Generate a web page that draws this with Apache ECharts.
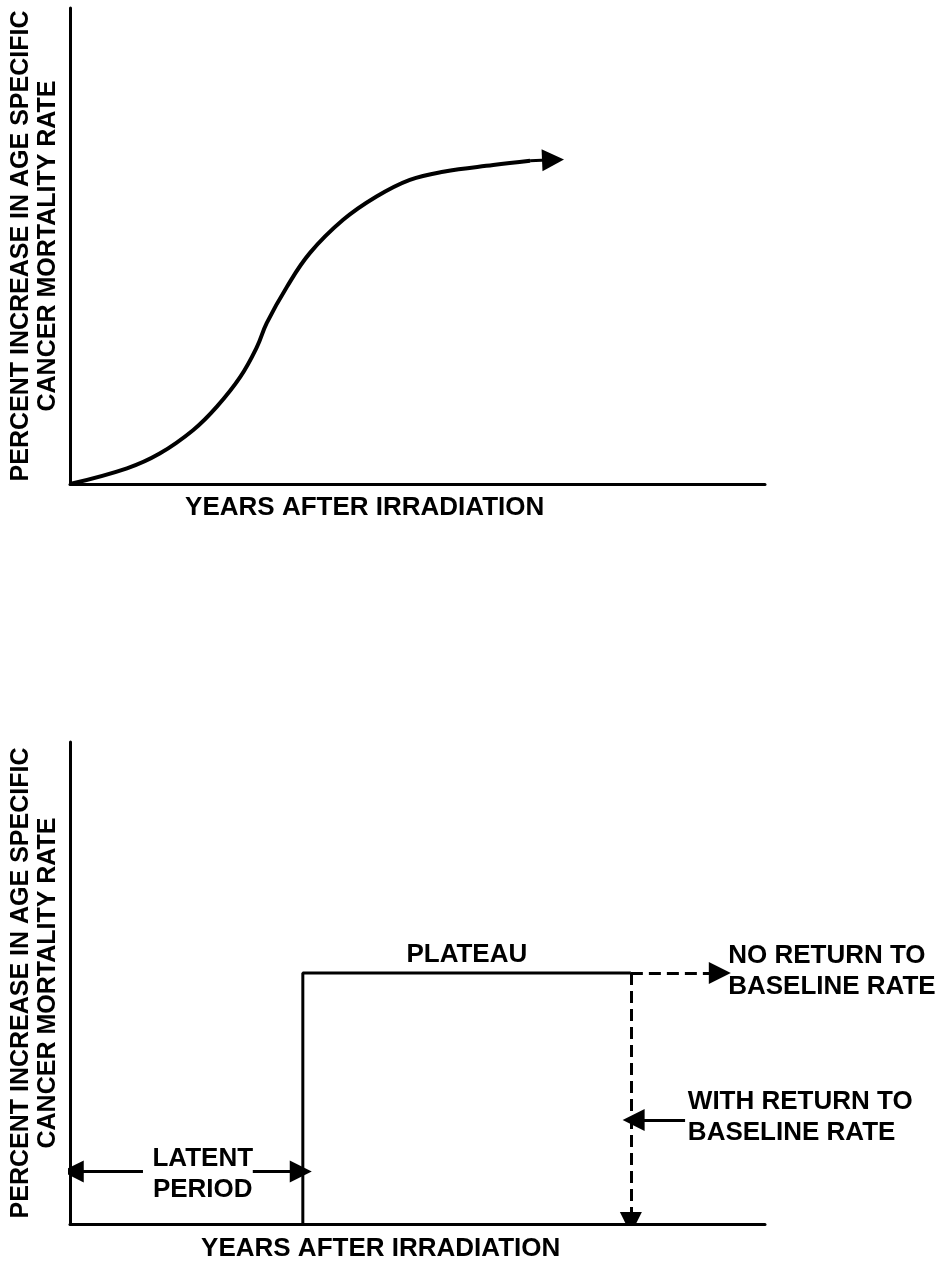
<!DOCTYPE html>
<html>
<head>
<meta charset="utf-8">
<script src="https://cdn.jsdelivr.net/npm/echarts@6/dist/echarts.min.js"></script>
<style>
    html, body { margin: 0; padding: 0; background: #fff; }
    #chart { width: 951px; height: 1265px; }
</style>
</head>
<body>
<div id="chart"></div>
<script>
// top panel: rising curve (0-100 scale)
var curve_x = [0, 8.2, 12.9, 17.7, 21.1, 24.5, 26.9, 28.3, 31.2, 34.5, 39.3, 44.1, 48.9, 53.7, 60.9, 66.2];
var curve_y = [0, 3.3, 6.4, 11.3, 16.2, 22.5, 28.8, 33.8, 41.4, 48.5, 55.5, 60.4, 63.9, 65.6, 67.0, 67.9];
var curve_arrow = [[66.2, 67.9], [69.5, 68.1]];

// bottom panel: step model
var plateau_x = [33.5, 33.5, 80.7];
var plateau_y = [0, 52.1, 52.1];
var no_return = [[80.7, 52.1], [93.5, 52.1]];
var with_return = [[80.7, 52.1], [80.7, 0.2]];
var with_return_pointer = [[88.5, 21.6], [81.1, 21.6]];
var latent_left = [[10.5, 10.9], [0.4, 10.9]];
var latent_right = [[26.3, 10.9], [33.2, 10.9]];

var axis_name = 'PERCENT INCREASE IN AGE SPECIFIC\nCANCER MORTALITY RATE';
var x_name = 'YEARS AFTER IRRADIATION';
var top_x_name_at = [42.4, 0];
var bottom_x_name_at = [44.7, 0];
var center_labels = [['PLATEAU', 57.1, 55.8], ['LATENT\nPERIOD', 19.1, 10.4]];
var left_labels = [['NO RETURN TO\nBASELINE RATE', 94.7, 52.5], ['WITH RETURN TO\nBASELINE RATE', 88.9, 22.2]];

var CHART = {
    font: 'Liberation Sans, Arial, sans-serif',
    init: function(){
        var _this = this;
        var myChart = echarts.init(document.getElementById('chart'), null, {renderer: 'canvas'});
        myChart.setOption(_this.build_option());
    },
    axis: function(idx, is_y){
        var ax = {
            type: 'value',
            gridIndex: idx,
            min: 0,
            max: 100,
            axisLine: {show: true, onZero: false, lineStyle: {color: '#000', width: 3}},
            axisTick: {show: false},
            axisLabel: {show: false},
            splitLine: {show: false}
        };
        if (is_y){
            ax.name = axis_name;
            ax.nameLocation = 'middle';
            ax.nameRotate = 90;
            ax.nameGap = 8;
            ax.nameTextStyle = {
                fontFamily: this.font,
                fontWeight: 'bold',
                fontSize: 25,
                lineHeight: 27,
                color: '#000',
                align: 'center'
            };
        }
        return ax;
    },
    arrow: function(idx, coords, dashed){
        return {
            type: 'lines',
            coordinateSystem: 'cartesian2d',
            xAxisIndex: idx,
            yAxisIndex: idx,
            symbol: ['none', 'triangle'],
            symbolSize: [14, 22],
            lineStyle: {color: '#000', width: 3, opacity: 1, type: dashed ? [12, 6] : 'solid'},
            itemStyle: {color: '#000'},
            z: 4,
            data: [{coords: coords}]
        };
    },
    text_series: function(idx, items, align, offset){
        var _this = this;
        return {
            type: 'scatter',
            xAxisIndex: idx,
            yAxisIndex: idx,
            symbolSize: 0,
            clip: false,
            silent: true,
            itemStyle: {opacity: 1, color: '#000'},
            label: {
                show: true,
                position: offset || [0, 0],
                align: align,
                verticalAlign: 'middle',
                formatter: '{b}',
                fontFamily: _this.font,
                fontWeight: 'bold',
                fontSize: 26,
                lineHeight: 31,
                color: '#000',
                opacity: 1
            },
            data: items.map(function(d){ return {name: d[0], value: [d[1], d[2]]}; })
        };
    },
    build_option: function(){
        var _this = this;
        var curve = curve_x.map(function(x, i){ return [x, curve_y[i]]; });
        var plateau = plateau_x.map(function(x, i){ return [x, plateau_y[i]]; });
        var option = {
            backgroundColor: '#fff',
            animation: false,
            grid: [
                {left: 70, right: 186, top: 8, height: 476, outerBoundsMode: 'none', containLabel: false},
                {left: 70, right: 186, top: 742, height: 482, outerBoundsMode: 'none', containLabel: false}
            ],
            xAxis: [_this.axis(0, false), _this.axis(1, false)],
            yAxis: [_this.axis(0, true), _this.axis(1, true)],
            series: [
                {
                    type: 'line',
                    xAxisIndex: 0,
                    yAxisIndex: 0,
                    smooth: 0.4,
                    symbol: 'none',
                    lineStyle: {color: '#000', width: 4},
                    data: curve
                },
                _this.arrow(0, curve_arrow, false),
                {
                    type: 'line',
                    xAxisIndex: 1,
                    yAxisIndex: 1,
                    symbol: 'none',
                    lineStyle: {color: '#000', width: 3},
                    data: plateau
                },
                _this.arrow(1, no_return, true),
                _this.arrow(1, with_return, true),
                _this.arrow(1, with_return_pointer, false),
                _this.arrow(1, latent_left, false),
                _this.arrow(1, latent_right, false),
                _this.text_series(0, [[x_name, top_x_name_at[0], top_x_name_at[1]]], 'center', [0, 24]),
                _this.text_series(1, [[x_name, bottom_x_name_at[0], bottom_x_name_at[1]]], 'center', [0, 25]),
                _this.text_series(1, center_labels, 'center'),
                _this.text_series(1, left_labels, 'left')
            ]
        };
        return option;
    }
};

CHART.init();
</script>
</body>
</html>
